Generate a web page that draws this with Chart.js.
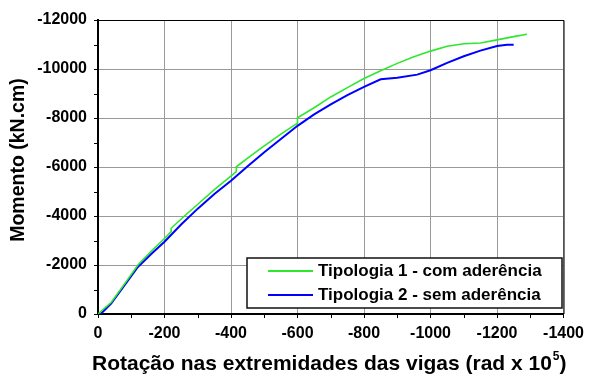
<!DOCTYPE html>
<html>
<head>
<meta charset="utf-8">
<script src="https://cdn.jsdelivr.net/npm/chart.js@4"></script>
<style>
  html, body { margin: 0; padding: 0; background: #fff; }
  #wrap { width: 590px; height: 374px; }
</style>
</head>
<body>
<div id="wrap"><canvas id="grafico"></canvas></div>
<script>
// Rotação (rad x 10^5) e momento (kN.cm) das duas tipologias
const rotT1 = [0, -40, -80, -120, -160, -200, -220, -220, -260, -300, -350, -416, -416, -460, -500, -550, -600, -600,
  -650, -700, -750, -800, -850, -900, -950, -1000, -1050, -1100, -1150, -1200, -1250, -1290];
const momT1 = [0, -480, -1230, -2000, -2560, -3080, -3360, -3500, -4000, -4480, -5080, -5810, -6010, -6460, -6860, -7340, -7790, -8010,
  -8420, -8860, -9240, -9610, -9930, -10230, -10500, -10730, -10930, -11030, -11060, -11190, -11320, -11420];

const rotT2 = [-8, -40, -80, -120, -160, -200, -250, -300, -350, -400, -450, -500, -550, -600, -650, -700, -750, -800,
  -850, -900, -960, -1000, -1050, -1100, -1150, -1200, -1230, -1250];
const momT2 = [0, -430, -1180, -1920, -2450, -2950, -3650, -4300, -4900, -5440, -6030, -6600, -7140, -7680, -8150, -8560, -8930, -9270,
  -9580, -9640, -9770, -9950, -10250, -10520, -10750, -10940, -10985, -10990];

const labelsSerie = ['Tipologia 1 - com aderência', 'Tipologia 2 - sem aderência'];
const coresSerie = ['#2ee82e', '#0000ff'];

const xTicks = [0, -200, -400, -600, -800, -1000, -1200, -1400];
const yTicks = [0, -2000, -4000, -6000, -8000, -10000, -12000];

const FONTE = "'Liberation Sans', Arial, sans-serif";

const pares = (xs, ys) => xs.map((x, i) => ({ x: x, y: ys[i] }));

// moldura fina em cima/direita, ticks menores, legenda e títulos dos eixos
const extras = {
  id: 'extras',
  afterDraw(chart) {
    const ctx = chart.ctx;
    const a = chart.chartArea;
    const sx = chart.scales.x, sy = chart.scales.y;
    ctx.save();

    ctx.strokeStyle = '#000';
    ctx.lineWidth = 1;
    ctx.beginPath();
    ctx.moveTo(a.left, a.top + 0.5);
    ctx.lineTo(a.right + 0.5, a.top + 0.5);
    ctx.lineTo(a.right + 0.5, a.bottom);
    ctx.stroke();

    // ticks menores
    ctx.beginPath();
    for (let v = -100; v > -1400; v -= 200) {
      const px = Math.round(sx.getPixelForValue(v)) + 0.5;
      ctx.moveTo(px, a.bottom);
      ctx.lineTo(px, a.bottom + 4);
    }
    for (let v = -1000; v > -12000; v -= 2000) {
      const py = Math.round(sy.getPixelForValue(v)) + 0.5;
      ctx.moveTo(a.left, py);
      ctx.lineTo(a.left - 4, py);
    }
    ctx.stroke();

    // legenda
    const lx = a.left + 149, ly = a.top + 238, lw = 315, lh = 50;
    ctx.fillStyle = '#fff';
    ctx.fillRect(lx, ly, lw, lh);
    ctx.lineWidth = 1.5;
    ctx.strokeStyle = '#111';
    ctx.strokeRect(lx, ly, lw, lh);
    ctx.font = 'bold 17px ' + FONTE;
    ctx.textBaseline = 'middle';
    ctx.textAlign = 'left';
    chart.data.datasets.forEach((ds, i) => {
      const yy = ly + 13 + i * 24;
      ctx.strokeStyle = ds.borderColor;
      ctx.lineWidth = 2;
      ctx.beginPath();
      ctx.moveTo(lx + 21, yy);
      ctx.lineTo(lx + 66, yy);
      ctx.stroke();
      ctx.fillStyle = '#000';
      ctx.fillText(ds.label, lx + 71, yy);
    });

    // título do eixo y
    ctx.save();
    ctx.translate(19, 160);
    ctx.rotate(-Math.PI / 2);
    ctx.font = 'bold 19.5px ' + FONTE;
    ctx.textAlign = 'center';
    ctx.textBaseline = 'middle';
    ctx.fillStyle = '#000';
    ctx.fillText('Momento (kN.cm)', 0, 0);
    ctx.restore();

    // título do eixo x com expoente
    const t1 = 'Rotação nas extremidades das vigas (rad x 10';
    const t2 = '5';
    const t3 = ')';
    const fGrande = 'bold 21px ' + FONTE;
    const fPeq = 'bold 12px ' + FONTE;
    ctx.font = fGrande;
    const w1 = ctx.measureText(t1).width;
    const w3 = ctx.measureText(t3).width;
    ctx.font = fPeq;
    const w2 = ctx.measureText(t2).width;
    const total = w1 + w2 + w3;
    let x0 = (a.left + a.right) / 2 - total / 2 - 2;
    const base = 370;
    ctx.textAlign = 'left';
    ctx.textBaseline = 'alphabetic';
    ctx.fillStyle = '#000';
    ctx.font = fGrande;
    ctx.fillText(t1, x0, base);
    ctx.font = fPeq;
    ctx.fillText(t2, x0 + w1 + 1, base - 10);
    ctx.font = fGrande;
    ctx.fillText(t3, x0 + w1 + w2 + 1, base);

    ctx.restore();
  }
};

new Chart(document.getElementById('grafico'), {
  type: 'scatter',
  data: {
    datasets: [
      { label: labelsSerie[0], data: pares(rotT1, momT1), showLine: true, borderColor: coresSerie[0],
        backgroundColor: coresSerie[0], borderWidth: 1.6, pointRadius: 0, tension: 0 },
      { label: labelsSerie[1], data: pares(rotT2, momT2), showLine: true, borderColor: coresSerie[1],
        backgroundColor: coresSerie[1], borderWidth: 2, pointRadius: 0, tension: 0 }
    ]
  },
  options: {
    responsive: true,
    maintainAspectRatio: false,
    animation: false,
    layout: { padding: { top: 20, right: 23, left: 0, bottom: 0 } },
    plugins: { legend: { display: false }, tooltip: { enabled: false } },
    scales: {
      x: {
        type: 'linear', min: -1400, max: 0, reverse: true,
        afterBuildTicks: s => { s.ticks = xTicks.map(v => ({ value: v })); },
        afterFit: s => { s.height = 60; },
        ticks: { callback: v => String(v), color: '#000', padding: 6,
          font: { family: FONTE, size: 16, weight: 'bold' } },
        grid: { color: '#999', lineWidth: 1, tickColor: '#000', tickLength: 4 },
        border: { display: true, color: '#000', width: 2 }
      },
      y: {
        type: 'linear', min: -12000, max: 0, reverse: true,
        afterBuildTicks: s => { s.ticks = yTicks.map(v => ({ value: v })); },
        afterFit: s => { s.width = 98; },
        ticks: { callback: v => String(v), color: '#000', padding: 7,
          font: { family: FONTE, size: 16, weight: 'bold' } },
        grid: { color: '#999', lineWidth: 1, tickColor: '#000', tickLength: 4 },
        border: { display: true, color: '#000', width: 2 }
      }
    }
  },
  plugins: [extras]
});
</script>
</body>
</html>
